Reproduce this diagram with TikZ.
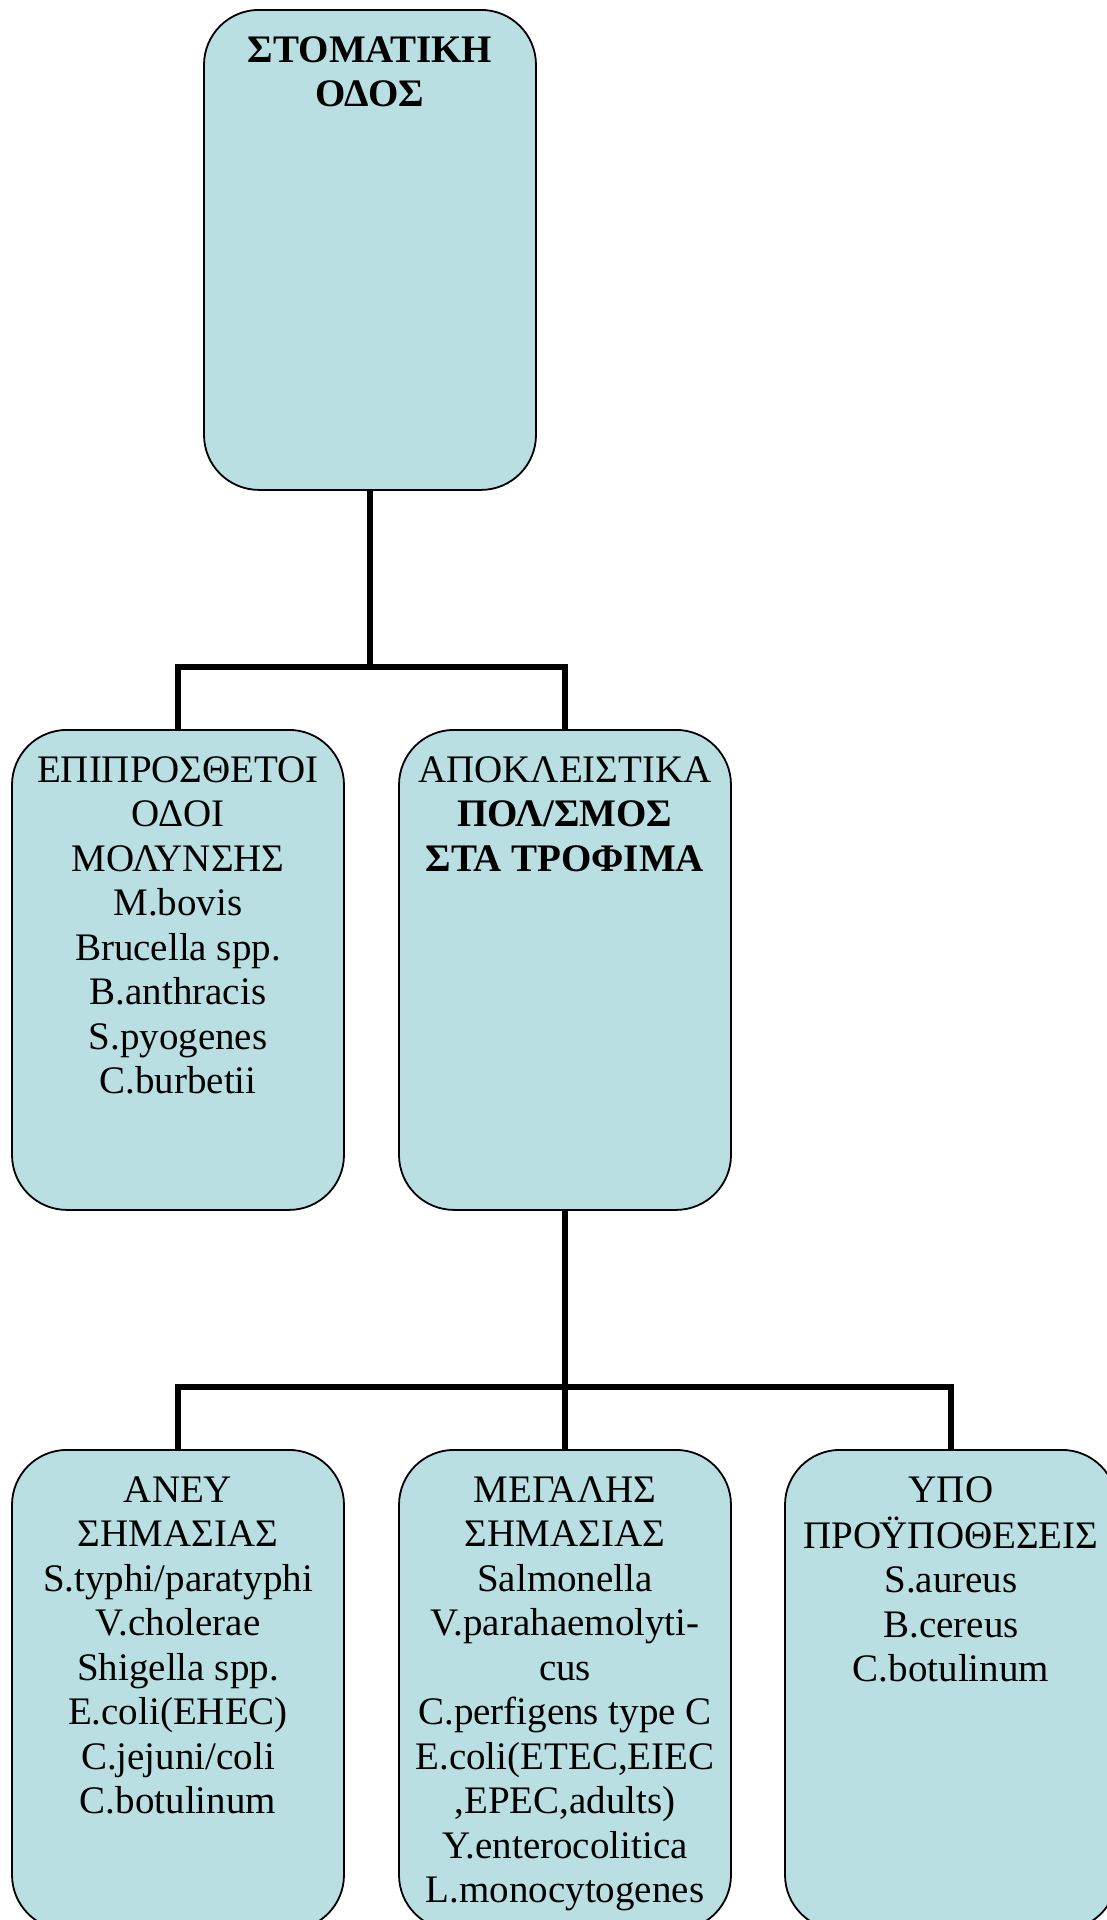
\documentclass[tikz,border=0pt]{standalone}
\usepackage{fontspec}
\setmainfont{Liberation Serif}
\definecolor{boxfill}{RGB}{185,223,227}
\tikzset{
  box/.style={draw=black, line width=1.8pt, fill=boxfill, rounded corners=55pt,
              minimum width=332pt, minimum height=480pt, inner sep=0pt, anchor=north},
  lbl/.style={align=center, inner sep=0pt, anchor=north,
              font=\fontsize{39}{44.5}\selectfont},
  conn/.style={line width=5.5pt, draw=black}
}
\begin{document}
\begin{tikzpicture}[x=1pt,y=-1pt]
\useasboundingbox (0,0) rectangle (1107,1920);
\clip (0,0) rectangle (1107,1920);

% boxes
\node[box] (b0) at (370,9) {};
\node[box] (b1) at (178,729) {};
\node[box] (b2) at (565,729) {};
\node[box] (b3) at (178,1449) {};
\node[box] (b4) at (565,1449) {};
\node[box] (b5) at (951,1449) {};

% texts
\node[lbl, font=\fontsize{39}{44.5}\selectfont\bfseries] (t0) at ([yshift=-22pt]b0.north) {\strut ΣΤΟΜΑΤΙΚΗ\\ ΟΔΟΣ};
\node[lbl] (t1) at ([yshift=-22pt]b1.north) {\strut ΕΠΙΠΡΟΣΘΕΤΟΙ\\ ΟΔΟΙ\\ ΜΟΛΥΝΣΗΣ\\ M.bovis\\ Brucella spp.\\ B.anthracis\\ S.pyogenes\\ C.burbetii};
\node[lbl] (t2) at ([yshift=-22pt]b2.north) {\strut ΑΠΟΚΛΕΙΣΤΙΚΑ\\ \textbf{ΠΟΛ/ΣΜΟΣ}\\ \textbf{ΣΤΑ ΤΡΟΦΙΜΑ}};
\node[lbl] (t3) at ([yshift=-22pt]b3.north) {\strut ΑΝΕΥ\\ ΣΗΜΑΣΙΑΣ\\ S.typhi/paratyphi\\ V.cholerae\\ Shigella spp.\\ E.coli(EHEC)\\ C.jejuni/coli\\ C.botulinum};
\node[lbl] (t4) at ([yshift=-22pt]b4.north) {\strut ΜΕΓΑΛΗΣ\\ ΣΗΜΑΣΙΑΣ\\ Salmonella\\ V.parahaemolyti-\\ cus\\ C.perfigens type C\\ E.coli(ETEC,EIEC\\ ,EPEC,adults)\\ Y.enterocolitica\\ L.monocytogenes};
\node[lbl] (t5) at ([yshift=-22pt]b5.north) {\strut ΥΠΟ\\ ΠΡΟΫΠΟΘΕΣΕΙΣ\\ S.aureus\\ B.cereus\\ C.botulinum};

% junctions
\coordinate (j1) at (370,667);
\coordinate (j2) at (565,1387);

% connectors
\draw[conn] (b0.south) -- (j1);
\draw[conn] (b1.north) |- (j1) -| (b2.north);
\draw[conn] (b2.south) -- (j2);
\draw[conn] (b3.north) |- (j2) -| (b5.north);
\draw[conn] (j2) -- (b4.north);
\end{tikzpicture}
\end{document}
